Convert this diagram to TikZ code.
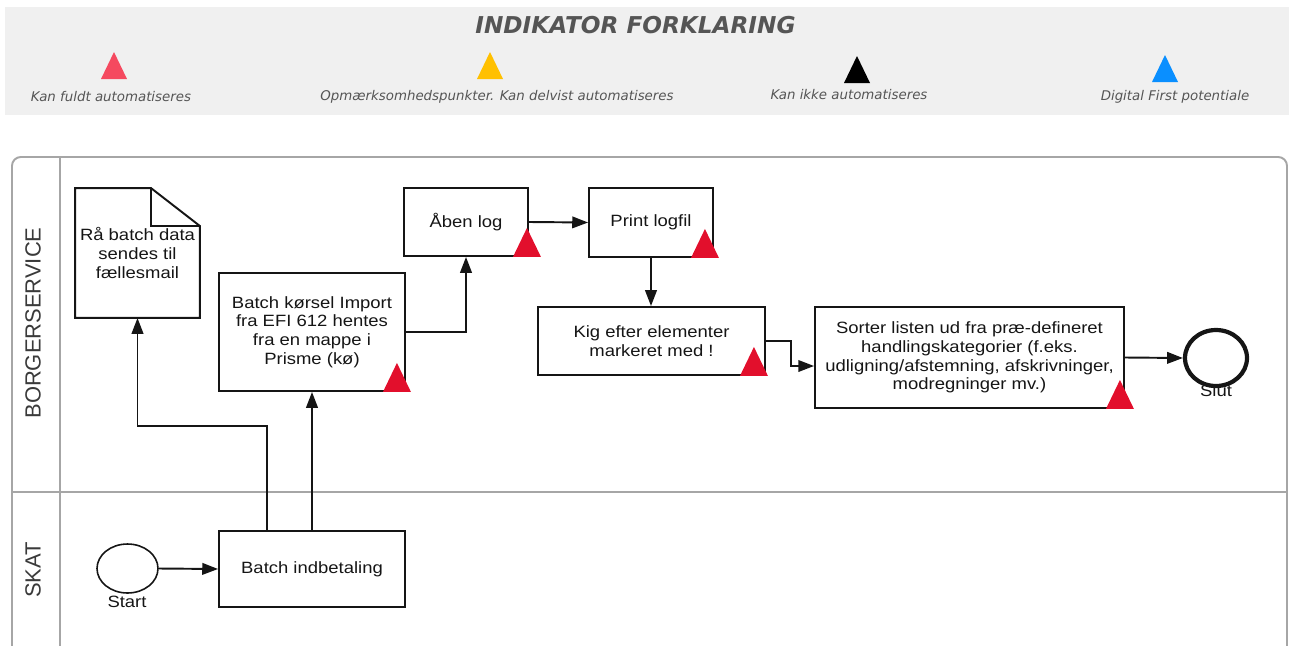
\documentclass[tikz,border=0pt]{standalone}
\usepackage{fontspec}
\setmainfont{Liberation Sans}
\newfontfamily\boxfont[FakeStretch=1.13]{Liberation Sans}
\newfontfamily\legfont{DejaVu Sans}
\usetikzlibrary{arrows.meta,calc,shapes.geometric}

\definecolor{legbg}{HTML}{F0F0F0}
\definecolor{legtxt}{HTML}{555555}
\definecolor{legred}{HTML}{F5495F}
\definecolor{legyellow}{HTML}{FFC000}
\definecolor{legblue}{HTML}{0A8FFF}
\definecolor{flagred}{HTML}{E20F2C}
\definecolor{poolgray}{HTML}{A6A6A6}
\definecolor{lanetxt}{HTML}{3A3A3A}
\definecolor{ink}{HTML}{151515}

\tikzset{
  task/.style={draw=ink, line width=1.1pt, inner sep=0pt, align=center,
    font=\boxfont\fontsize{9.3}{10.6}\selectfont, text=ink},
  flow/.style={draw=ink, line width=1.1pt, -{Triangle[length=9pt,width=6.6pt]}},
  legendtext/.style={font=\legfont\itshape\fontsize{7.6}{9}\selectfont, text=legtxt},
  lanelabel/.style={rotate=90, font=\fontsize{12.5}{14}\selectfont, text=lanetxt},
  evt/.style={ellipse, draw=ink, inner sep=0pt},
  evtlabel/.style={font=\boxfont\fontsize{9.3}{10.6}\selectfont, text=ink, inner sep=0pt},
  pool/.style={draw=poolgray, line width=1.1pt}
}

% red automation flag sitting on a box's lower right corner
\newcommand\flagtri[2]{\fill[flagred] ($(#1.south east)+(#2,0)$) -- ++(28,0) -- ++(-14,-29) -- cycle;}
% legend triangle: colour, apex x, base y
\newcommand\legtri[3]{\fill[#1] (#2-13,#3) -- (#2+13,#3) -- (#2,#3-27) -- cycle;}

\begin{document}
\begin{tikzpicture}[x=0.02cm,y=-0.02cm]
\useasboundingbox (0,0) rectangle (1289,646);

% ---------- legend ----------
\fill[legbg] (5,7) rectangle (1289,115);
\node[font=\legfont\bfseries\itshape\fontsize{13.2}{15}\selectfont, text=legtxt] (title) at (635.5,25) {INDIKATOR FORKLARING};
\legtri{legred}{114}{79}
\legtri{legyellow}{490}{79}
\legtri{black}{857}{83}
\legtri{legblue}{1165}{82}
\node[legendtext] (l1) at (111,97) {Kan fuldt automatiseres};
\node[legendtext] (l2) at (497,97) {Opmærksomhedspunkter. Kan delvist automatiseres};
\node[legendtext] (l3) at (849,95) {Kan ikke automatiseres};
\node[legendtext] (l4) at (1175,97) {Digital First potentiale};

% ---------- pool and lanes ----------
\draw[pool, rounded corners=5pt] (12,652) -- (12,157) -- (1287,157) -- (1287,652);
\draw[pool] (60,157) -- (60,652);
\draw[pool] (12,492) -- (1287,492);
\node[lanelabel] (lane1) at (33,323) {BORGERSERVICE};
\node[lanelabel] (lane2) at (33,570) {SKAT};

% ---------- tasks ----------
\node[task, draw=none, minimum width=2.46cm, minimum height=2.56cm] (doc) at (137.5,253) {Rå batch data\\sendes til\\fællesmail};
\draw[ink, line width=1.1pt, line join=miter] (doc.south west) -- (doc.north west) -- ($(doc.north east)+(-49,0)$) -- ($(doc.north east)+(0,38)$) -- (doc.south east) -- cycle;
\draw[ink, line width=1.1pt] ($(doc.north east)+(-49,0)$) |- ($(doc.north east)+(0,38)$);

\node[task, minimum width=3.72cm, minimum height=2.36cm] (imp) at (312,332) {Batch kørsel Import\\fra EFI 612 hentes\\fra en mappe i\\Prisme (kø)};
\node[task, minimum width=2.48cm, minimum height=1.36cm] (aben) at (466,222) {Åben log};
\node[task, minimum width=2.48cm, minimum height=1.38cm] (print) at (651,222.5) {Print logfil};
\node[task, minimum width=4.54cm, minimum height=1.36cm] (kig) at (651.5,341) {Kig efter elementer\\markeret med !};
\node[task, minimum width=6.18cm, minimum height=2.02cm] (sort) at (969.5,357.5) {Sorter listen ud fra præ-defineret\\handlingskategorier (f.eks.\\udligning/afstemning, afskrivninger,\\modregninger mv.)};
\node[task, minimum width=3.72cm, minimum height=1.52cm] (batch) at (312,569) {Batch indbetaling};

% ---------- events ----------
\node[evt, line width=0.9pt, minimum width=1.22cm, minimum height=0.98cm] (start) at (127.5,568.5) {};
\node[evtlabel] (startlbl) at (127,602) {Start};
\node[evt, line width=2.4pt, minimum width=1.24cm, minimum height=1.12cm] (slut) at (1216,358) {};
\node[evtlabel] (slutlbl) at (1216,391) {Slut};

% ---------- flags ----------
\flagtri{imp}{-23}
\flagtri{aben}{-16}
\flagtri{print}{-23}
\flagtri{kig}{-26}
\flagtri{sort}{-19}

% ---------- sequence flow ----------
\draw[flow] (start.east) -- (batch.west);
\draw[flow] ($(batch.north west)+(49,0)$) |- ($(doc.south)+(0,108)$) -- (doc.south);
\draw[flow] (batch.north) -- (imp.south);
\draw[flow] (imp.east) -| (aben.south);
\draw[flow] (aben.east) -- (print.west);
\draw[flow] (print.south) -- (print.south |- kig.north);
\draw[flow] (kig.east) -- ++(25,0) |- ($(sort.west)+(0,8.5)$);
\draw[flow] (sort.east) -- (slut.west);
\end{tikzpicture}
\end{document}
